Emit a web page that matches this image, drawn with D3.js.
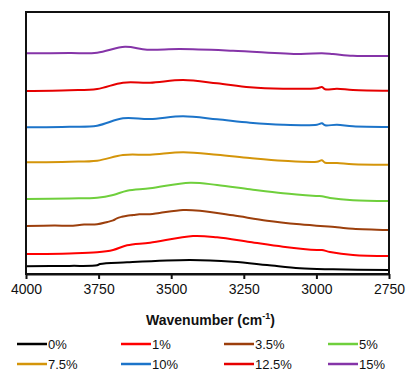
<!DOCTYPE html>
<html><head><meta charset="utf-8">
<script src="https://cdn.jsdelivr.net/npm/d3@7/dist/d3.min.js"></script>
<style>body{margin:0;background:#fff}svg{display:block}text{font-family:"Liberation Sans",Arial,sans-serif}</style>
</head><body><svg id="c" width="406" height="372"></svg>
<script>
// Wavenumber ticks
const xTicks = [4000, 3750, 3500, 3250, 3000, 2750];
const seriesNames = ["0%", "1%", "3.5%", "5%", "7.5%", "10%", "12.5%", "15%"];
const seriesColors = ["#000000", "#ff0000", "#9c3f0c", "#6fcf3c", "#d4950a", "#1c74c9", "#e60000", "#8534a8"];
// Spectra (arbitrary absorbance units, offset per series): [wavenumber, value]
const s0 = [[4000,7.7],[3850,8.1],[3755,8.7],[3745,10],[3652,11.7],[3435,14],[3287,12.3],[3170,9],[3057,5.7],[2943,4.7],[2750,4]];
const s1 = [[4000,20],[3850,20.6],[3755,21.7],[3700,24],[3652,28.7],[3573,31.3],[3425,38],[3342,36.7],[3229,32],[3115,27.3],[2998,24],[2981,24],[2953,22],[2874,19],[2750,18]];
const s35 = [[4000,48],[3900,48.6],[3850,48.2],[3800,49.4],[3755,49.7],[3720,52],[3700,53.6],[3687,55.7],[3670,57.2],[3652,58.3],[3630,58.9],[3610,59.8],[3573,59.7],[3540,61],[3459,64],[3401,63.3],[3287,58.7],[3170,53.3],[3057,49.7],[2929,46.7],[2874,45.3],[2750,44]];
const s5 = [[4000,75],[3850,75.6],[3755,76.3],[3700,79],[3652,83.3],[3573,85.7],[3435,91.3],[3342,89],[3229,84.7],[3115,80.7],[2998,78],[2981,77.7],[2953,76],[2874,73.7],[2750,73]];
const s75 = [[4000,111.7],[3850,112.3],[3755,113.3],[3666,119],[3573,119.3],[3459,121.7],[3342,119.3],[3229,116],[3115,113.3],[2998,112.3],[2981,113.7],[2970,111.3],[2929,111],[2874,109.7],[2750,109.3]];
const s10 = [[4000,146.7],[3850,147.3],[3755,148.3],[3666,155.7],[3573,155],[3459,157.7],[3342,154.7],[3229,151.3],[3115,149.3],[2998,149.3],[2981,150.7],[2970,148.7],[2929,149.3],[2874,147.7],[2750,147]];
const s125 = [[4000,183],[3850,183.8],[3755,185],[3666,191.3],[3573,191.3],[3459,194],[3342,190.7],[3229,186.7],[3115,185.3],[2998,185.7],[2981,187],[2970,184.7],[2929,185.3],[2874,184],[2750,183.3]];
const s15 = [[4000,220.7],[3850,220.9],[3755,221.3],[3659,227.3],[3583,224.3],[3470,225],[3287,223.3],[3057,220],[2981,220.7],[2943,220],[2874,218.3],[2750,218]];
const seriesData = [s0, s1, s35, s5, s75, s10, s125, s15];

const svg = d3.select("#c");
const L = 26, R = 389, T = 12, B = 274;
const x = d3.scaleLinear().domain([4000, 2750]).range([L, R]);
const y = d3.scaleLinear().domain([0, 262]).range([B, T]);

const line = d3.line().x(d => x(d[0])).y(d => y(d[1])).curve(d3.curveCatmullRom.alpha(0.5));
seriesData.forEach((s, i) => {
  svg.append("path").attr("d", line(s)).attr("fill", "none")
    .attr("stroke", seriesColors[i]).attr("stroke-width", 2).attr("stroke-linejoin", "round");
});

// frame
svg.append("rect").attr("x", L).attr("y", T).attr("width", R - L).attr("height", B - T)
  .attr("fill", "none").attr("stroke", "#111").attr("stroke-width", 2);

const ax = svg.append("g").attr("transform", `translate(0,${B})`)
  .call(d3.axisBottom(x).tickValues(xTicks).tickSize(5).tickSizeOuter(0).tickPadding(5).tickFormat(d3.format("d")));
ax.select(".domain").attr("stroke", "#111").attr("stroke-width", 2);
ax.selectAll(".tick line").attr("stroke", "#111").attr("stroke-width", 2);
ax.selectAll(".tick text").attr("font-size", 14).attr("fill", "#111")
  .attr("font-family", "'Liberation Sans',Arial,sans-serif");

const title = svg.append("text").attr("x", (L + R) / 2 + 3).attr("y", 325).attr("text-anchor", "middle")
  .attr("font-size", 14).attr("font-weight", "bold").attr("fill", "#111");
title.append("tspan").text("Wavenumber (cm");
title.append("tspan").text("-1").attr("font-size", 9).attr("dy", -6);
title.append("tspan").text(")").attr("dy", 6);

// legend
const legX = [17, 121, 224, 328], legY = [344, 364];
seriesNames.forEach((n, i) => {
  const cx = legX[i % 4], cy = legY[Math.floor(i / 4)];
  svg.append("line").attr("x1", cx).attr("x2", cx + 30).attr("y1", cy).attr("y2", cy)
    .attr("stroke", seriesColors[i]).attr("stroke-width", 2.5);
  svg.append("text").attr("x", cx + 31).attr("y", cy + 4.5).attr("font-size", 13).attr("fill", "#111").text(n);
});
</script></body></html>
